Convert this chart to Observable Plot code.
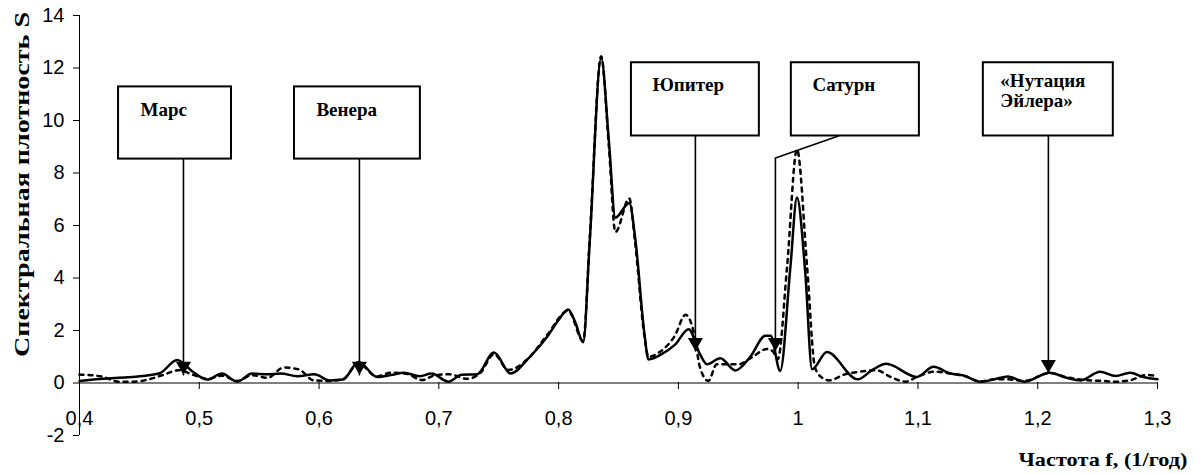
<!DOCTYPE html>
<html>
<head>
<meta charset="utf-8">
<script src="https://cdn.jsdelivr.net/npm/d3@7"></script>
<script src="https://cdn.jsdelivr.net/npm/@observablehq/plot@0.6"></script>
<style>
  html, body { margin: 0; padding: 0; background: #fff; }
</style>
</head>
<body>
<div id="chart"></div>
<script>
// ---- Data ----
// Solid curve: frequency f (1/год) and spectral density S
const solidF = [0.400, 0.420, 0.440, 0.455, 0.467, 0.4815, 0.494, 0.5066, 0.519, 0.5316,
  0.544, 0.556, 0.568, 0.582, 0.596, 0.609, 0.620, 0.633, 0.6485, 0.660,
  0.671, 0.684, 0.694, 0.708, 0.719, 0.732, 0.746, 0.760, 0.775, 0.790,
  0.800, 0.808, 0.814, 0.8205, 0.826, 0.8355, 0.842, 0.8474, 0.859, 0.864,
  0.8716, 0.875, 0.885, 0.897, 0.9086, 0.918, 0.924, 0.935, 0.9476, 0.960,
  0.9726, 0.977, 0.985, 0.9935, 0.999, 1.006, 1.0116, 1.024, 1.0497, 1.062,
  1.0735, 1.099, 1.113, 1.127, 1.138, 1.152, 1.164, 1.175, 1.189, 1.210,
  1.224, 1.236, 1.252, 1.265, 1.277, 1.288, 1.300];
const solidS = [0.08, 0.16, 0.22, 0.28, 0.37, 0.88, 0.45, 0.13, 0.36, 0.05,
  0.36, 0.33, 0.36, 0.26, 0.33, 0.10, 0.13, 0.80, 0.23, 0.30,
  0.39, 0.26, 0.36, 0.05, 0.31, 0.33, 1.16, 0.36, 0.95, 1.73,
  2.40, 2.80, 2.30, 1.55, 5.40, 12.38, 9.20, 6.30, 6.86, 5.50,
  1.90, 0.90, 1.07, 1.45, 2.05, 1.10, 0.71, 0.94, 0.48, 1.00,
  1.80, 1.80, 0.46, 4.41, 7.07, 4.16, 0.52, 1.18, 0.14, 0.50,
  0.73, 0.23, 0.62, 0.36, 0.29, 0.05, 0.14, 0.25, 0.05, 0.39,
  0.20, 0.10, 0.43, 0.27, 0.39, 0.23, 0.14];

// Dashed curve
const dashF = [0.400, 0.406, 0.419, 0.433, 0.445, 0.458, 0.470, 0.483, 0.495, 0.507,
  0.519, 0.532, 0.544, 0.557, 0.5705, 0.583, 0.5956, 0.609, 0.620, 0.633,
  0.648, 0.660, 0.673, 0.686, 0.697, 0.709, 0.7236, 0.735, 0.746, 0.758,
  0.775, 0.790, 0.808, 0.8205, 0.826, 0.8355, 0.842, 0.8474, 0.859, 0.864,
  0.8716, 0.875, 0.885, 0.897, 0.906, 0.913, 0.918, 0.925, 0.932, 0.950,
  0.962, 0.974, 0.979, 0.983, 0.9907, 0.999, 1.0075, 1.014, 1.020, 1.026,
  1.039, 1.052, 1.065, 1.0773, 1.0895, 1.100, 1.114, 1.127, 1.140, 1.152,
  1.163, 1.174, 1.189, 1.210, 1.224, 1.238, 1.2536, 1.265, 1.277, 1.2912, 1.300];
const dashS = [0.32, 0.31, 0.24, 0.05, 0.05, 0.14, 0.31, 0.49, 0.31, 0.16,
  0.28, 0.08, 0.30, 0.20, 0.59, 0.52, 0.10, 0.08, 0.15, 0.75,
  0.25, 0.39, 0.35, 0.11, 0.30, 0.33, 0.16, 0.40, 1.10, 0.50,
  0.95, 1.80, 2.75, 1.60, 5.50, 12.45, 9.00, 5.75, 7.03, 5.30,
  1.80, 1.00, 1.20, 1.80, 2.60, 1.90, 0.60, 0.08, 0.71, 0.71,
  1.00, 1.30, 1.20, 0.90, 4.40, 8.90, 4.40, 0.60, 0.20, 0.10,
  0.33, 0.43, 0.49, 0.23, 0.05, 0.25, 0.43, 0.36, 0.25, 0.06,
  0.14, 0.14, 0.08, 0.38, 0.22, 0.12, 0.08, 0.05, 0.10, 0.31, 0.25];

// Axis ticks
const xTicks = [0.4, 0.5, 0.6, 0.7, 0.8, 0.9, 1.0, 1.1, 1.2, 1.3];
const yTicks = [-2, 0, 2, 4, 6, 8, 10, 12, 14];

// Annotations (in data units: frequency and S)
const noteNames   = ["Марс", "Венера", "Юпитер", "Сатурн", "«Нутация\nЭйлера»"];
const noteFreq    = [0.4868, 0.6337, 0.9142, 0.9810, 1.2089];   // where the arrow points
const noteTip     = [0.31, 0.31, 1.22, 1.22, 0.38];              // arrow tip level
const noteAttachF = [0.4868, 0.6337, 0.9142, 1.0336, 1.2089];   // where leader leaves box
const noteElbowS  = [null, null, null, 8.57, null];
const boxLeft     = [0.4326, 0.5795, 0.8608, 0.9943, 1.1546];
const boxRight    = [0.5269, 0.6846, 0.9676, 1.1012, 1.2631];
const boxTop      = [11.28, 11.28, 12.20, 12.20, 12.20];
const boxBottom   = [8.53, 8.53, 9.41, 9.41, 9.41];
const textF       = [0.4509, 0.5978, 0.8783, 1.0119, 1.1688];
const textS       = [10.43, 10.43, 11.35, 11.35, 11.14];

const yTitle = "Спектральная плотность S";
const xTitle = "Частота f, (1/год)";

// ---- Build tables ----
const solid = solidF.map((f, i) => ({f, s: solidS[i]}));
const dashed = dashF.map((f, i) => ({f, s: dashS[i]}));
const notes = noteNames.map((name, i) => ({
  name, f: noteFreq[i], tip: noteTip[i], x1: boxLeft[i], x2: boxRight[i],
  top: boxTop[i], bottom: boxBottom[i], tf: textF[i], ts: textS[i]
}));
const leaders = [];
notes.forEach((n, i) => {
  leaders.push({id: i, f: noteAttachF[i], s: n.bottom});
  if (noteElbowS[i] != null) leaders.push({id: i, f: n.f, s: noteElbowS[i]});
  leaders.push({id: i, f: n.f, s: n.tip});
});

const serif = "'Liberation Serif', 'Times New Roman', serif";
const sans = "'Liberation Sans', Arial, sans-serif";

const chart = Plot.plot({
  width: 1201,
  height: 474,
  marginLeft: 79,
  marginRight: 44,
  marginTop: 15,
  marginBottom: 39,
  x: {domain: [0.4, 1.3]},
  y: {domain: [-2, 14]},
  style: {background: "white", fontFamily: sans, fontSize: "20px", color: "black", overflow: "visible"},
  marks: [
    Plot.ruleY([0], {stroke: "black", strokeWidth: 1}),
    Plot.ruleX([0.4], {stroke: "black", strokeWidth: 1}),
    Plot.axisY({ticks: yTicks, tickSize: 6, tickPadding: 9, label: null,
      tickFormat: d => String(d), fontSize: 20, fontFamily: sans}),
    Plot.axisX({ticks: xTicks, tickSize: 7, tickPadding: 21, dy: -53, label: null,
      tickFormat: d => String(d).replace(".", ","), fontSize: 20, fontFamily: sans}),
    Plot.line(dashed, {x: "f", y: "s", curve: "monotone-x", stroke: "black",
      strokeWidth: 2.5, strokeDasharray: "4,5"}),
    Plot.line(solid, {x: "f", y: "s", curve: "monotone-x", stroke: "black", strokeWidth: 2.5}),
    Plot.rect(notes, {x1: "x1", x2: "x2", y1: "bottom", y2: "top", fill: "white",
      stroke: "black", strokeWidth: 2}),
    Plot.line(leaders, {x: "f", y: "s", z: "id", stroke: "black", strokeWidth: 1.6, curve: "linear"}),
    Plot.dot(notes, {x: "f", y: "tip", symbol: "triangle", r: 5.6, rotate: 180,
      fill: "black", stroke: "none", dy: -8.7}),
    Plot.text(notes, {x: "tf", y: "ts", text: "name", textAnchor: "start", lineAnchor: "middle",
      fontFamily: serif, fontWeight: "bold", fontSize: 19, lineHeight: 1.05, fill: "black"}),
    Plot.text([yTitle], {frameAnchor: "left", dx: -57, dy: -41, rotate: -90,
      textAnchor: "middle", lineAnchor: "middle", fontFamily: serif, fontWeight: "bold",
      fontSize: 21, fill: "black"}),
    Plot.text([xTitle], {frameAnchor: "bottom-right", dx: 30, dy: 24, textAnchor: "end",
      lineAnchor: "middle", fontFamily: serif, fontWeight: "bold", fontSize: 19, fill: "black"})
  ]
});

// stretch titles to the span they occupy in the reference
chart.querySelectorAll("text").forEach(t => {
  if (t.textContent === yTitle) { t.setAttribute("textLength", 345); t.setAttribute("lengthAdjust", "spacingAndGlyphs"); }
  if (t.textContent === xTitle) { t.setAttribute("textLength", 169); t.setAttribute("lengthAdjust", "spacingAndGlyphs"); }
});

document.getElementById("chart").appendChild(chart);
</script>
</body>
</html>
